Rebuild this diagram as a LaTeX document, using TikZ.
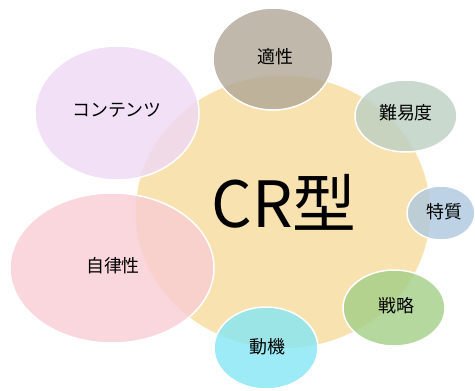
\documentclass[tikz,border=0pt]{standalone}
\usepackage{fontspec}
\setmainfont{Noto Sans CJK JP}
\usetikzlibrary{shapes.geometric}
\definecolor{corecol}{HTML}{F6DC9C}
\definecolor{tekicol}{HTML}{B0A696}
\definecolor{contcol}{HTML}{EFD8F5}
\definecolor{nancol}{HTML}{BCCFC2}
\definecolor{tokucol}{HTML}{ADC8DF}
\definecolor{jiricol}{HTML}{F9CCD4}
\definecolor{sencol}{HTML}{A2CE86}
\definecolor{docol}{HTML}{84E6F5}
\begin{document}
\begin{tikzpicture}[x=1bp,y=-1bp,
    bubble/.style={ellipse, draw=white, line width=1.5bp, fill opacity=0.8,
      text opacity=1, inner sep=0pt, font=\fontsize{18}{20}\selectfont}]
\useasboundingbox (0,0) rectangle (475,390);
% 中心
\node at (283,212) (cr) [bubble, fill=corecol, minimum width=296bp, minimum height=274bp] {};
\node at (284,202) (crtext) [font=\fontsize{64}{66}\selectfont, inner sep=0pt] {CR型};
% 周りの要素
\node at (273,59) (teki) [bubble, fill=tekicol, minimum width=120bp, minimum height=102bp] {};
\node at (275,57) (tekitext) [inner sep=0pt, font=\fontsize{18}{20}\selectfont] {適性};
\node at (117,113) (cont) [bubble, fill=contcol, minimum width=164bp, minimum height=134bp] {};
\node at (117,110) (conttext) [inner sep=0pt, font=\fontsize{18}{20}\selectfont] {コンテンツ};
\node at (406,116) (nan) [bubble, fill=nancol, minimum width=102bp, minimum height=72bp] {};
\node at (406,113) (nantext) [inner sep=0pt, font=\fontsize{18}{20}\selectfont] {難易度};
\node at (441,213) (toku) [bubble, fill=tokucol, minimum width=68bp, minimum height=54bp] {};
\node at (444,212) (tokutext) [inner sep=0pt, font=\fontsize{18}{20}\selectfont] {特質};
\node at (112,268) (jiri) [bubble, fill=jiricol, minimum width=204bp, minimum height=150bp] {};
\node at (113,266) (jiritext) [inner sep=0pt, font=\fontsize{18}{20}\selectfont] {自律性};
\node at (394,308) (sen) [bubble, fill=sencol, minimum width=102bp, minimum height=76bp] {};
\node at (396,306) (sentext) [inner sep=0pt, font=\fontsize{18}{20}\selectfont] {戦略};
\node at (266,348) (do) [bubble, fill=docol, minimum width=104bp, minimum height=82bp] {};
\node at (267,347) (dotext) [inner sep=0pt, font=\fontsize{18}{20}\selectfont] {動機};
\end{tikzpicture}
\end{document}
